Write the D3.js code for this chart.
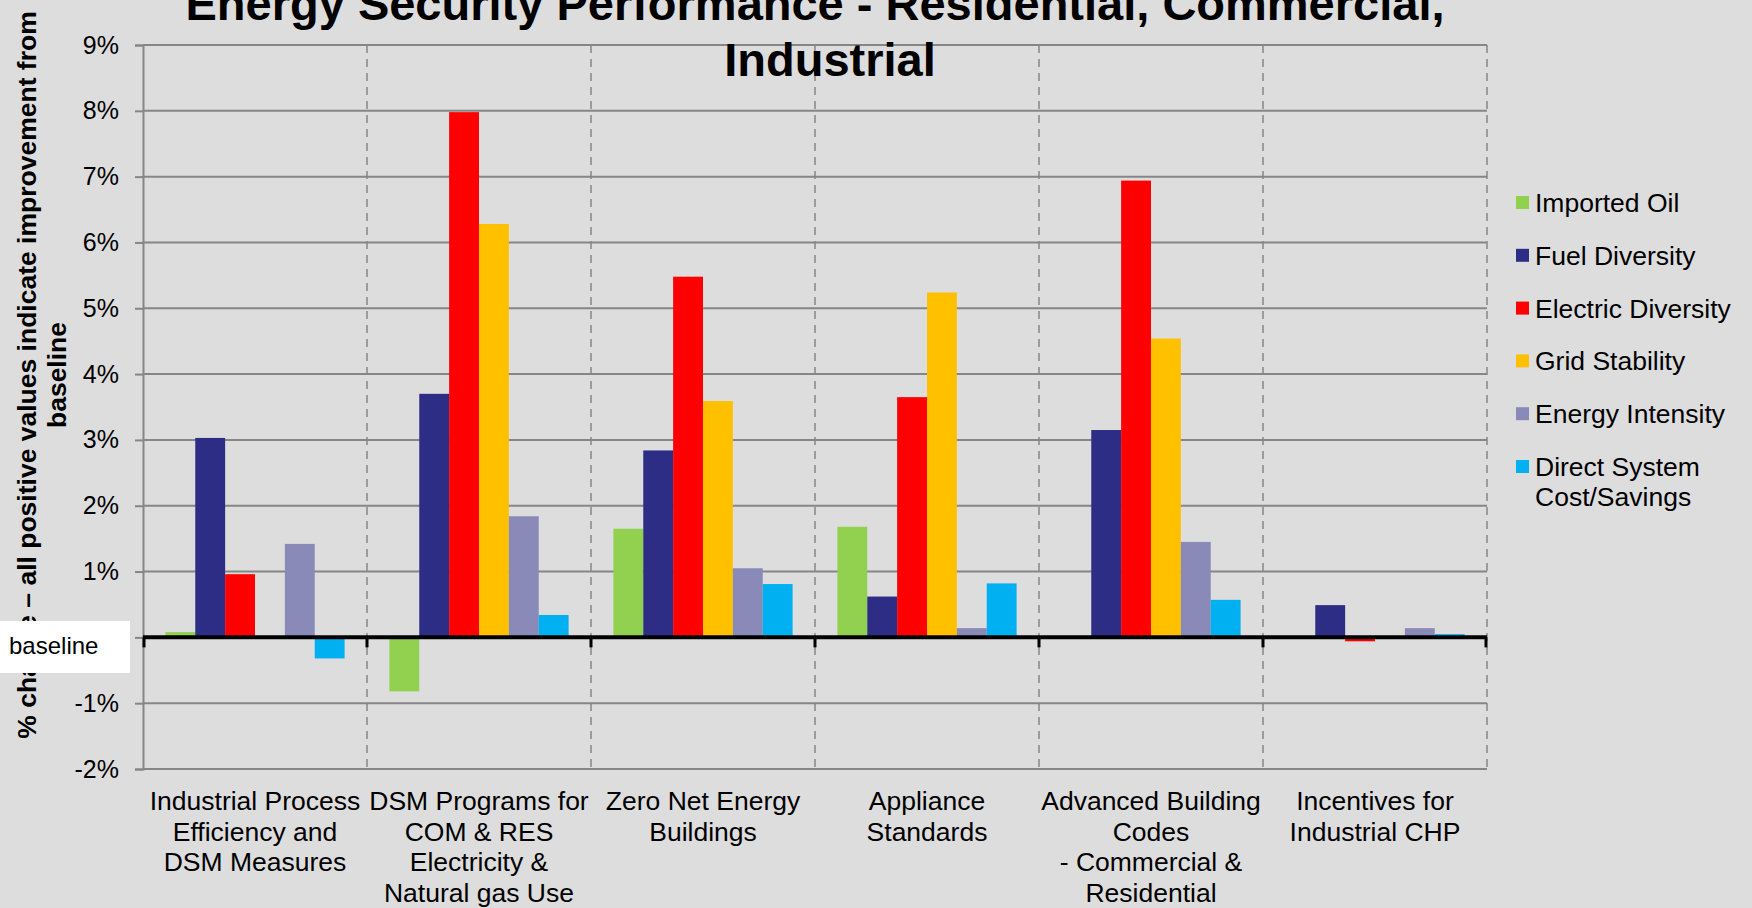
<!DOCTYPE html>
<html>
<head>
<meta charset="utf-8">
<script src="https://cdn.jsdelivr.net/npm/d3@7"></script>
<style>
  body { margin: 0; background: #dddddd; }
  svg { display: block; font-family: "Liberation Sans", Arial, sans-serif; }
</style>
</head>
<body>
<div id="chart-area"></div>
<script>
const W = 1752
const H = 908
const margin = { top: 45, left: 143, right: 265, bottom: 139 }

const width = W - margin.left - margin.right
const height = H - margin.top - margin.bottom

// categories (x axis), one entry per line of the label
const categories = [
	["Industrial Process", "Efficiency and", "DSM Measures"],
	["DSM Programs for", "COM & RES", "Electricity &", "Natural gas Use"],
	["Zero Net Energy", "Buildings"],
	["Appliance", "Standards"],
	["Advanced Building", "Codes", "- Commercial &", "Residential"],
	["Incentives for", "Industrial CHP"]
]

const seriesNames = ["Imported Oil", "Fuel Diversity", "Electric Diversity", "Grid Stability", "Energy Intensity", "Direct System Cost/Savings"]
const legendLines = [["Imported Oil"], ["Fuel Diversity"], ["Electric Diversity"], ["Grid Stability"], ["Energy Intensity"], ["Direct System", "Cost/Savings"]]

// % change values, one array per series, in category order
const importedOil = [0.08, -0.82, 1.65, 1.68, 0, 0]
const fuelDiversity = [3.03, 3.70, 2.84, 0.62, 3.15, 0.49]
const electricDiversity = [0.96, 7.98, 5.48, 3.65, 6.94, -0.06]
const gridStability = [0, 6.28, 3.59, 5.24, 4.54, 0]
const energyIntensity = [1.42, 1.84, 1.05, 0.14, 1.45, 0.14]
const directCost = [-0.32, 0.34, 0.81, 0.82, 0.57, 0.05]

const yTicks = [-2, -1, 0, 1, 2, 3, 4, 5, 6, 7, 8, 9]

const seriesValues = [importedOil, fuelDiversity, electricDiversity, gridStability, energyIntensity, directCost]
const colors = ["#92d050", "#2e2d86", "#ff0000", "#ffc000", "#8a8ab8", "#00b0f0"]

let svg = d3.select('#chart-area')
	.append('svg')
	.attr('width', W)
	.attr('height', H)

svg.append('rect').attr('width', W).attr('height', H).attr('fill', '#dddddd')

let g = svg.append('g')
	.attr('transform', 'translate(' + margin.left + ',' + margin.top + ')')

// scales
let xScale = d3.scaleBand()
	.domain(d3.range(categories.length))
	.range([0, width])
	.padding(0)

const bw0 = xScale.bandwidth()
const gap = bw0 * 1.5 / 7.5
let xInner = d3.scaleBand()
	.domain(d3.range(seriesNames.length))
	.range([gap / 2, bw0 - gap / 2])
	.padding(0)

let yScale = d3.scaleLinear()
	.domain([-2, 9])
	.range([height, 0])

// horizontal gridlines
g.append('g')
	.selectAll('line')
	.data(yTicks)
	.join('line')
	.attr('x1', 0)
	.attr('x2', width)
	.attr('y1', d => yScale(d))
	.attr('y2', d => yScale(d))
	.attr('stroke', '#868686')
	.attr('stroke-width', 2)

// vertical dashed category separators
g.append('g')
	.selectAll('line')
	.data(d3.range(1, categories.length + 1))
	.join('line')
	.attr('x1', d => d === categories.length ? width : xScale(d))
	.attr('x2', d => d === categories.length ? width : xScale(d))
	.attr('y1', yScale(9))
	.attr('y2', yScale(-2))
	.attr('stroke', '#868686')
	.attr('stroke-width', 1.5)
	.attr('stroke-dasharray', '8,6')

// y axis
let yAxis = d3.axisLeft(yScale)
	.tickValues(yTicks)
	.tickSize(8)
	.tickPadding(16)
	.tickFormat(d => d + '%')

let ya = g.append('g')
	.attr('class', 'y-axis')
	.call(yAxis)
ya.select('.domain').attr('stroke', '#868686').attr('stroke-width', 2)
ya.selectAll('.tick line').attr('stroke', '#868686').attr('stroke-width', 2)
ya.selectAll('.tick text')
	.attr('font-size', 25)
	.attr('fill', '#000')
	.style('font-family', '"Liberation Sans", Arial, sans-serif')

// bars
g.append('g')
	.selectAll('g')
	.data(seriesValues)
	.join('g')
	.attr('fill', (d, i) => colors[i])
	.each(function (vals, si) {
		d3.select(this).selectAll('rect')
			.data(vals)
			.join('rect')
			.attr('x', (v, ci) => xScale(ci) + xInner(si))
			.attr('width', xInner.bandwidth())
			.attr('y', v => yScale(Math.max(0, v)))
			.attr('height', v => Math.abs(yScale(v) - yScale(0)))
	})

// zero line with small ticks
g.append('line')
	.attr('x1', 0)
	.attr('x2', width)
	.attr('y1', yScale(0))
	.attr('y2', yScale(0))
	.attr('stroke', '#000')
	.attr('stroke-width', 4)

g.append('g')
	.selectAll('line')
	.data(d3.range(0, categories.length + 1))
	.join('line')
	.attr('x1', d => d === categories.length ? width - 1 : (d === 0 ? 1 : xScale(d)))
	.attr('x2', d => d === categories.length ? width - 1 : (d === 0 ? 1 : xScale(d)))
	.attr('y1', yScale(0))
	.attr('y2', yScale(0) + 10)
	.attr('stroke', '#000')
	.attr('stroke-width', 3)

// category labels
g.append('g')
	.selectAll('text')
	.data(categories)
	.join('text')
	.attr('x', (d, i) => xScale(i) + bw0 / 2)
	.attr('y', height + 41)
	.attr('text-anchor', 'middle')
	.attr('font-size', 26.5)
	.attr('fill', '#000')
	.each(function (lines) {
		d3.select(this).selectAll('tspan')
			.data(lines)
			.join('tspan')
			.attr('x', d3.select(this).attr('x'))
			.attr('dy', (l, i) => i === 0 ? 0 : 30.7)
			.text(l => l)
	})

// legend
let legend = svg.append('g')
	.attr('transform', 'translate(1516,203)')

legend.selectAll('g')
	.data(legendLines)
	.join('g')
	.attr('transform', (d, i) => 'translate(0,' + (i * 52.8) + ')')
	.each(function (lines, i) {
		let lg = d3.select(this)
		lg.append('rect')
			.attr('x', 0)
			.attr('y', -7)
			.attr('width', 13)
			.attr('height', 13)
			.attr('fill', colors[i])
		lg.append('text')
			.attr('x', 19)
			.attr('y', 9)
			.attr('font-size', 26.5)
			.attr('fill', '#000')
			.selectAll('tspan')
			.data(lines)
			.join('tspan')
			.attr('x', 19)
			.attr('dy', (l, j) => j === 0 ? 0 : 30)
			.text(l => l)
	})

// title
svg.append('text')
	.attr('x', 815)
	.attr('y', 20)
	.attr('text-anchor', 'middle')
	.attr('font-size', 47)
	.attr('font-weight', 'bold')
	.text('Energy Security Performance - Residential, Commercial,')

svg.append('text')
	.attr('x', 830)
	.attr('y', 76)
	.attr('text-anchor', 'middle')
	.attr('font-size', 47)
	.attr('font-weight', 'bold')
	.text('Industrial')

// y axis title
let yTitle = svg.append('text')
	.attr('transform', 'translate(36,375) rotate(-90)')
	.attr('text-anchor', 'middle')
	.attr('font-size', 26.5)
	.attr('font-weight', 'bold')
yTitle.append('tspan').attr('x', 0).attr('y', 0).text('% change \u2013 all positive values indicate improvement from')
yTitle.append('tspan').attr('x', 0).attr('y', 30).text('baseline')

// white "baseline" label box
svg.append('rect')
	.attr('x', 0)
	.attr('y', 621)
	.attr('width', 130)
	.attr('height', 52)
	.attr('fill', '#ffffff')

svg.append('text')
	.attr('x', 9)
	.attr('y', 654)
	.attr('font-size', 24)
	.attr('fill', '#000')
	.text('baseline')
</script>
</body>
</html>
